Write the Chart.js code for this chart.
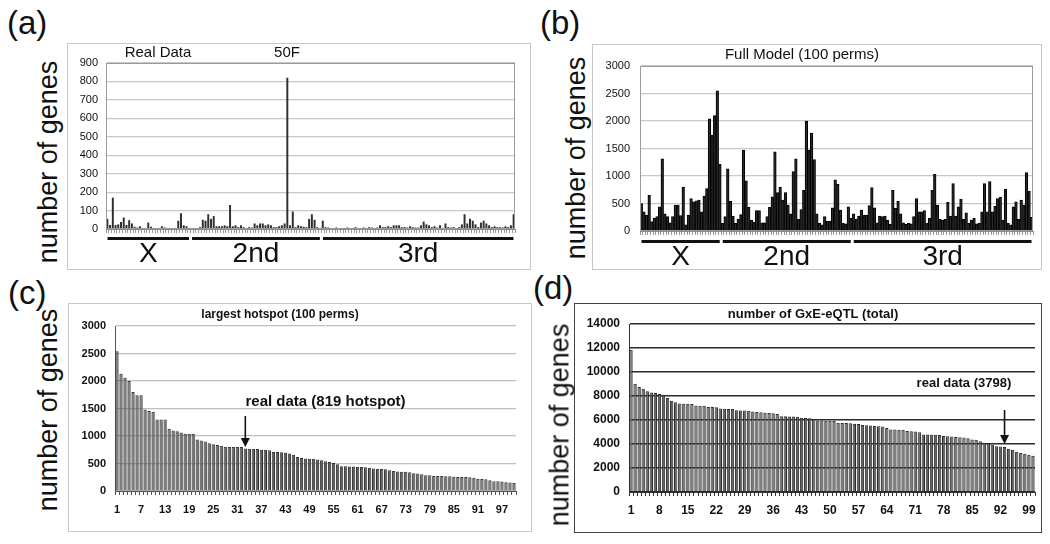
<!DOCTYPE html>
<html>
<head>
<meta charset="utf-8">
<script src="https://cdn.jsdelivr.net/npm/chart.js@4.4.1/dist/chart.umd.min.js"></script>
<style>
  body { margin: 0; width: 1050px; height: 544px; background: #fff; position: relative; overflow: hidden;
         font-family: "Liberation Sans", Arial, sans-serif; color: #111; }
  .box { position: absolute; border: 1px solid #c8c8c8; box-sizing: border-box; }
  canvas { position: absolute; }
  .letter { position: absolute; font-size: 33px; line-height: 1; }
  .ytitle { position: absolute; font-size: 27px; line-height: 1; white-space: nowrap;
            transform: translate(-50%, -50%) rotate(-90deg); }
</style>
</head>
<body>
<div class="box" style="left:67px;top:43px;width:464px;height:227px"></div>
<div class="box" style="left:592px;top:44px;width:450px;height:226px"></div>
<div class="box" style="left:68px;top:303px;width:464px;height:229px"></div>
<div class="box" style="left:574px;top:303px;width:468px;height:230px;border:1.5px solid #444"></div>

<canvas id="chartA" width="464" height="227" style="left:67px;top:43px"></canvas>
<canvas id="chartB" width="450" height="226" style="left:592px;top:44px"></canvas>
<canvas id="chartC" width="464" height="229" style="left:68px;top:303px"></canvas>
<canvas id="chartD" width="468" height="230" style="left:574px;top:303px"></canvas>

<div class="letter" style="left:7px;top:6px">(a)</div>
<div class="letter" style="left:540px;top:6px">(b)</div>
<div class="letter" style="left:8px;top:276px">(c)</div>
<div class="letter" style="left:533px;top:271px">(d)</div>

<div class="ytitle" style="left:48px;top:162px">number of genes</div>
<div class="ytitle" style="left:576px;top:158px">number of genes</div>
<div class="ytitle" style="left:48px;top:410px">number of genes</div>
<div class="ytitle" style="left:560px;top:425px">number of genes</div>

<script>
// chromosome arms
const chromNames = ['X', '2nd', '3rd'];

// (a) real data, genes per marker
const aX = [55, 22, 170, 22, 25, 38, 62, 22, 48, 30, 12, 8, 15, 5, 5, 35, 12, 4, 5, 6, 15, 8, 6, 5, 5, 6, 45, 85, 20, 15, 6];
const a2nd = [5, 5, 5, 10, 50, 45, 80, 55, 70, 15, 15, 15, 20, 15, 130, 15, 20, 10, 20, 10, 5, 10, 8, 30, 20, 30, 30, 20, 25, 20,
              10, 10, 15, 20, 30, 820, 20, 95, 10, 20, 15, 12, 10, 55, 80, 50, 10, 5];
const a3rd = [45, 10, 8, 5, 5, 8, 5, 3, 5, 8, 5, 5, 10, 5, 5, 8, 5, 10, 8, 5, 8, 20, 10, 10, 15, 10, 20, 20, 20, 10,
              10, 8, 15, 10, 8, 8, 20, 40, 25, 20, 10, 15, 8, 20, 5, 30, 10, 8, 10, 5, 10, 25, 80, 30, 55, 45, 25, 10, 35, 45,
              30, 20, 10, 15, 10, 10, 8, 15, 10, 20, 80];

// (b) full model, 100 perms
const bX = [500, 350, 290, 650, 170, 230, 260, 440, 1310, 310, 260, 150, 260, 470, 470, 280, 800, 110, 290, 590,
            530, 550, 560, 350, 635, 770, 2040, 1740, 2100, 2550, 1210];
const b2nd = [140, 260, 1130, 540, 270, 140, 210, 300, 1470, 910, 430, 200, 160, 370, 370, 150, 150, 260, 430, 620,
              1440, 700, 800, 560, 700, 470, 310, 1080, 1310, 210, 390, 740, 2000, 1470, 1780, 1300, 310, 140, 110, 260,
              180, 180, 420, 930, 850, 380, 140, 130, 440, 230];
const b3rd = [310, 210, 270, 380, 290, 290, 460, 790, 420, 150, 270, 260, 270, 200, 120, 740, 410, 540, 310, 150,
              120, 140, 130, 260, 590, 350, 350, 370, 140, 230, 740, 1030, 470, 210, 200, 210, 520, 270, 860, 270,
              440, 580, 210, 330, 140, 200, 230, 130, 140, 350, 860, 350, 900, 350, 450, 590, 610, 200, 760, 140,
              110, 440, 530, 210, 560, 470, 1060, 720, 250];

// (c) largest hotspot per permutation, sorted
const cHotspot = [2540, 2130, 2060, 2000, 1800, 1740, 1740, 1480, 1455, 1440,
                  1300, 1300, 1300, 1130, 1100, 1085, 1065, 1040, 1040, 1040,
                  935, 920, 900, 870, 850, 835, 825, 805, 800, 800,
                  800, 800, 775, 770, 770, 765, 750, 750, 740, 710,
                  710, 705, 695, 680, 660, 620, 600, 590, 588, 585,
                  575, 560, 540, 527, 510, 485, 450, 448, 446, 444,
                  436, 435, 432, 424, 410, 406, 402, 394, 376, 364,
                  355, 352, 350, 340, 325, 320, 303, 288, 285, 275,
                  273, 271, 270, 268, 258, 256, 255, 254, 252, 242,
                  222, 218, 215, 195, 178, 176, 174, 160, 156, 145];
const cTickLabels = ['1', '7', '13', '19', '25', '31', '37', '43', '49', '55', '61', '67', '73', '79', '85', '91', '97'];

// (d) number of GxE-eQTL per permutation, sorted
const dTotal = [11860, 9030, 8750, 8610, 8390, 8300, 8250, 8170, 8110, 7830,
                7610, 7470, 7380, 7360, 7350, 7340, 7200, 7190, 7180, 7090,
                7080, 7070, 6950, 6930, 6920, 6910, 6820, 6800, 6790, 6780,
                6700, 6670, 6650, 6600, 6580, 6560, 6500, 6320, 6310, 6300,
                6290, 6280, 6180, 6170, 6150, 6080, 5960, 5950, 5940, 5930,
                5920, 5780, 5760, 5750, 5730, 5680, 5660, 5580, 5560, 5540,
                5490, 5470, 5450, 5330, 5210, 5200, 5190, 5180, 5080, 5060,
                5050, 4970, 4800, 4790, 4780, 4770, 4760, 4660, 4640, 4620,
                4580, 4560, 4540, 4470, 4380, 4350, 4220, 4100, 4060, 3940,
                3820, 3800, 3750, 3610, 3530, 3360, 3250, 3190, 3110, 3030];
const dTickLabels = ['1', '8', '15', '22', '29', '36', '43', '50', '57', '64', '71', '78', '85', '92', '99'];

const aGenes = [...aX, ...a2nd, ...a3rd];
const bGenes = [...bX, ...b2nd, ...b3rd];
const indexLabels = arr => arr.map((_, i) => String(i + 1));

const FONT = '"Liberation Sans", Arial, sans-serif';
Chart.defaults.font.family = FONT;
Chart.defaults.color = '#111';

// extra drawing per canvas: titles, frame, chromosome bars, arrows
const decorations = {
    chartA: {
        frame: '#9a9a9a',
        texts: [
            { text: 'Real Data', x: 91, y: 10, font: '15px ' + FONT },
            { text: '50F', x: 220, y: 10, font: '15px ' + FONT }
        ],
        chrom: { lengths: [aX.length, a2nd.length, a3rd.length], gap: 8, base: 33 }
    },
    chartB: {
        frame: '#9a9a9a',
        texts: [{ text: 'Full Model (100 perms)', x: 210, y: 11, font: '15px ' + FONT }],
        chrom: { lengths: [bX.length, b2nd.length, b3rd.length], gap: 9, base: 34 }
    },
    chartC: {
        texts: [{ text: 'largest hotspot (100 perms)', x: 212, y: 12, font: 'bold 12px ' + FONT }],
        notes: [{ text: 'real data (819 hotspot)', index: 52, value: 1624, font: 'bold 15px ' + FONT }],
        arrow: { index: 32, from: 1364, to: 800 }
    },
    chartD: {
        texts: [{ text: 'number of GxE-eQTL (total)', x: 239, y: 11, font: 'bold 13px ' + FONT }],
        notes: [{ text: 'real data (3798)', index: 82, value: 9083, font: 'bold 13px ' + FONT }],
        arrow: { index: 92, from: 6833, to: 4000 }
    }
};

const decor = {
    id: 'decor',
    afterDraw(chart) {
        const d = decorations[chart.canvas.id];
        const ctx = chart.ctx;
        const area = chart.chartArea;
        const xs = chart.scales.x;
        const ys = chart.scales.y;
        ctx.save();
        ctx.fillStyle = '#111';
        ctx.textAlign = 'center';
        ctx.textBaseline = 'middle';
        if (d.frame) {
            ctx.strokeStyle = d.frame;
            ctx.lineWidth = 1;
            ctx.strokeRect(area.left + 0.5, area.top + 0.5, area.width - 1, area.height - 1);
        }
        (d.texts || []).forEach(t => {
            ctx.font = t.font;
            ctx.fillText(t.text, t.x, t.y);
        });
        (d.notes || []).forEach(t => {
            ctx.font = t.font;
            ctx.fillText(t.text, xs.getPixelForValue(t.index), ys.getPixelForValue(t.value));
        });
        if (d.arrow) {
            const px = xs.getPixelForValue(d.arrow.index);
            const y0 = ys.getPixelForValue(d.arrow.from);
            const y1 = ys.getPixelForValue(d.arrow.to);
            ctx.strokeStyle = '#111';
            ctx.lineWidth = 1.6;
            ctx.beginPath();
            ctx.moveTo(px, y0);
            ctx.lineTo(px, y1 - 8);
            ctx.stroke();
            ctx.beginPath();
            ctx.moveTo(px - 4.5, y1 - 9);
            ctx.lineTo(px + 4.5, y1 - 9);
            ctx.lineTo(px, y1);
            ctx.closePath();
            ctx.fill();
        }
        if (d.chrom) {
            const half = (xs.getPixelForValue(1) - xs.getPixelForValue(0)) / 2;
            let start = 0;
            d.chrom.lengths.forEach((len, k) => {
                const x0 = xs.getPixelForValue(start) - half + 1.5;
                const x1 = xs.getPixelForValue(start + len - 1) + half - 1.5;
                ctx.fillRect(x0, area.bottom + d.chrom.gap, x1 - x0, 3);
                ctx.font = '28px ' + FONT;
                ctx.textBaseline = 'alphabetic';
                ctx.fillText(chromNames[k], (x0 + x1) / 2, area.bottom + d.chrom.base);
                start += len;
            });
        }
        ctx.restore();
    }
};

function makeChart(id, labels, values, cfg) {
    return new Chart(document.getElementById(id), {
        type: 'bar',
        data: {
            labels: labels,
            datasets: [{
                data: values,
                backgroundColor: cfg.fill,
                borderColor: cfg.edge,
                borderWidth: cfg.edgeWidth,
                barPercentage: cfg.barPct,
                categoryPercentage: 1
            }]
        },
        options: {
            responsive: false,
            animation: false,
            layout: { padding: { left: 0, top: cfg.top, right: cfg.right, bottom: 0 } },
            plugins: { legend: { display: false }, tooltip: { enabled: false } },
            scales: {
                x: {
                    grid: { drawOnChartArea: false, drawTicks: true, tickLength: 4, color: cfg.tickColor },
                    border: { color: cfg.axisColor, width: 1 },
                    ticks: cfg.xTicks,
                    afterFit: s => { s.height = cfg.bottom; }
                },
                y: {
                    min: 0,
                    max: cfg.max,
                    ticks: { stepSize: cfg.step, padding: cfg.yPad, font: cfg.yFont, color: '#111',
                             callback: v => String(v) },
                    grid: { color: cfg.gridColor, lineWidth: cfg.gridWidth, drawTicks: false },
                    border: { color: cfg.axisColor, width: 1 },
                    afterFit: s => { s.width = cfg.left; }
                }
            }
        },
        plugins: [decor]
    });
}

function sparseTicks(labels, shown, font, pad) {
    return {
        autoSkip: false, maxRotation: 0, minRotation: 0, padding: pad, font: font, color: '#111',
        callback: (v, i) => shown.includes(labels[i]) ? labels[i] : ''
    };
}

const aLabels = indexLabels(aGenes);
const bLabels = indexLabels(bGenes);
const cLabels = indexLabels(cHotspot);
const dLabels = indexLabels(dTotal);

makeChart('chartA', aLabels, aGenes, {
    fill: '#2e2e2e', edge: '#2e2e2e', edgeWidth: 0, barPct: 0.72,
    top: 20, right: 16, bottom: 41, left: 39,
    max: 900, step: 100, yPad: 8, yFont: { size: 11 },
    gridColor: '#c8c8c8', gridWidth: 1.2, axisColor: '#8a8a8a', tickColor: '#999',
    xTicks: { display: false, autoSkip: false }
});

makeChart('chartB', bLabels, bGenes, {
    fill: '#2a2a2a', edge: '#000', edgeWidth: 1, barPct: 1,
    top: 22, right: 9, bottom: 39, left: 48,
    max: 3000, step: 500, yPad: 10, yFont: { size: 11 },
    gridColor: '#c8c8c8', gridWidth: 1.2, axisColor: '#8a8a8a', tickColor: '#999',
    xTicks: { display: false, autoSkip: false }
});

makeChart('chartC', cLabels, cHotspot, {
    fill: '#616161', edge: '#333', edgeWidth: 1, barPct: 0.82,
    top: 23, right: 16, bottom: 41, left: 47,
    max: 3000, step: 500, yPad: 9, yFont: { size: 11, weight: 'bold' },
    gridColor: '#c0c0c0', gridWidth: 1.2, axisColor: '#555', tickColor: '#555',
    xTicks: sparseTicks(cLabels, cTickLabels, { size: 11, weight: 'bold' }, 8)
});

makeChart('chartD', dLabels, dTotal, {
    fill: '#656565', edge: '#2a2a2a', edgeWidth: 1, barPct: 0.82,
    top: 21, right: 7, bottom: 41, left: 55,
    max: 14000, step: 2000, yPad: 9, yFont: { size: 12, weight: 'bold' },
    gridColor: '#2a2a2a', gridWidth: 1.6, axisColor: '#333', tickColor: '#333',
    xTicks: sparseTicks(dLabels, dTickLabels, { size: 12, weight: 'bold' }, 7)
});
</script>
</body>
</html>
